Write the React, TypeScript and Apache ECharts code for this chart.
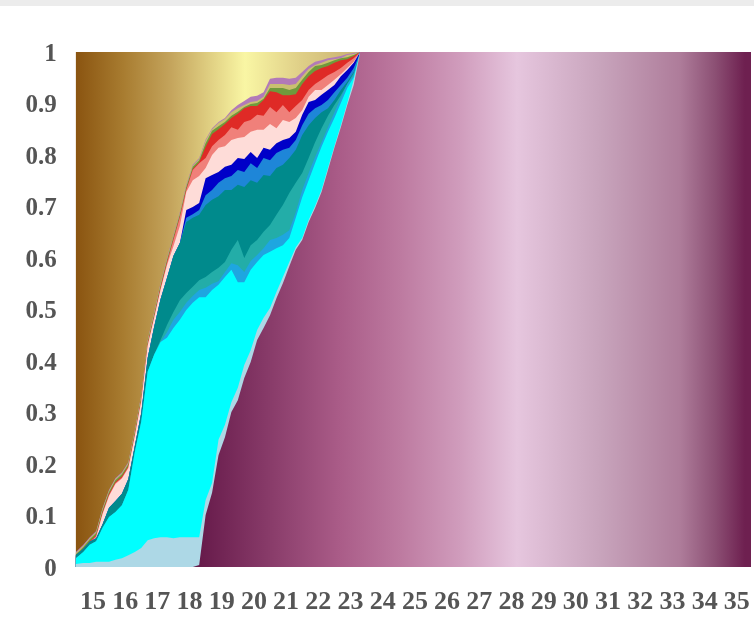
import React, { useEffect, useRef } from "react";
import * as echarts from "echarts";

const xs = [14.47,14.7,14.9,15.1,15.3,15.5,15.7,15.9,16.1,16.3,16.5,16.7,16.9,17.1,17.3,17.5,17.7,17.9,18.1,18.3,18.5,18.7,18.9,19.1,19.3,19.5,19.7,19.9,20.1,20.3,20.5,20.7,20.9,21.1,21.3,21.5,21.7,21.9,22.1,22.3,22.5,22.7,22.9,23.1,23.3,23.5];
const xEnd = 35.44;

const plumTop = [.029,.043,.058,.070,.115,.150,.173,.184,.204,.266,.334,.441,.495,.551,.600,.645,.689,.742,.781,.794,.830,.852,.864,.872,.887,.897,.905,.913,.915,.922,.948,.950,.950,.948,.950,.961,.973,.981,.984,.988,.990,.992,.996,.998,1,1];
const tanTop = [.027,.041,.056,.068,.113,.148,.171,.182,.202,.264,.332,.439,.493,.549,.598,.643,.687,.740,.779,.792,.828,.850,.862,.870,.883,.891,.897,.903,.905,.913,.938,.938,.938,.936,.938,.953,.967,.975,.979,.984,.986,.988,.994,.996,1,1];
const greenTop = [.025,.039,.054,.066,.111,.146,.169,.180,.200,.262,.330,.437,.491,.547,.596,.641,.685,.738,.777,.790,.823,.847,.856,.864,.876,.884,.893,.899,.901,.909,.930,.930,.930,.926,.930,.946,.961,.973,.975,.979,.984,.988,.990,.994,1,1];
const redTop = [.021,.035,.050,.062,.107,.142,.165,.176,.196,.258,.326,.433,.487,.543,.592,.637,.681,.734,.773,.786,.816,.841,.850,.860,.872,.880,.891,.895,.895,.907,.924,.922,.916,.916,.918,.938,.953,.963,.969,.973,.979,.984,.986,.992,1,1];
const salmonTop = [.019,.033,.048,.060,.105,.140,.163,.174,.194,.256,.324,.431,.485,.541,.590,.635,.679,.732,.771,.784,.794,.817,.829,.839,.854,.849,.864,.868,.878,.876,.893,.883,.897,.883,.895,.907,.926,.938,.946,.955,.961,.969,.979,.988,1,1];
const pinkTop = [.017,.031,.046,.058,.103,.138,.161,.172,.192,.254,.322,.429,.483,.538,.586,.623,.662,.728,.751,.759,.775,.800,.814,.817,.829,.833,.835,.845,.849,.849,.860,.852,.868,.864,.872,.887,.913,.926,.926,.936,.946,.957,.969,.981,1,1];
const navyTop = [.023,.035,.049,.056,.083,.115,.128,.142,.171,.235,.299,.406,.466,.520,.561,.604,.629,.693,.699,.707,.755,.761,.767,.777,.781,.794,.792,.806,.794,.814,.810,.823,.829,.833,.845,.878,.903,.907,.917,.926,.936,.953,.965,.979,1,1];
const blueTop = [.023,.035,.049,.056,.083,.115,.128,.142,.171,.235,.299,.406,.466,.520,.561,.604,.629,.678,.685,.693,.722,.732,.746,.755,.759,.771,.767,.784,.775,.794,.790,.804,.810,.814,.829,.858,.880,.891,.897,.907,.922,.936,.950,.969,.998,1];
const tealTop = [.023,.035,.049,.056,.083,.115,.128,.142,.171,.235,.299,.406,.466,.520,.561,.604,.629,.670,.678,.684,.703,.713,.720,.732,.732,.742,.738,.751,.746,.761,.759,.775,.781,.794,.810,.839,.858,.872,.883,.891,.907,.926,.942,.961,.996,1];
const seaTop = [.017,.029,.043,.050,.076,.097,.107,.120,.150,.223,.282,.379,.412,.441,.470,.495,.518,.532,.544,.557,.563,.573,.581,.592,.616,.635,.600,.625,.635,.651,.664,.684,.703,.726,.746,.765,.794,.825,.852,.876,.897,.916,.938,.959,1,1];
const steelTop = [.017,.029,.043,.050,.076,.097,.107,.120,.150,.223,.282,.379,.412,.437,.456,.480,.495,.513,.526,.538,.542,.550,.555,.573,.590,.586,.573,.594,.606,.619,.635,.639,.645,.654,.689,.732,.765,.796,.825,.854,.883,.911,.938,.955,1,1];
const cyanTop = [.017,.029,.043,.050,.076,.097,.107,.120,.150,.223,.282,.379,.412,.437,.445,.464,.480,.499,.513,.524,.524,.538,.548,.563,.577,.553,.553,.577,.592,.606,.612,.619,.625,.639,.678,.718,.751,.784,.816,.845,.872,.901,.930,.951,1,1];
const paleTop = [.006,.008,.008,.010,.010,.010,.014,.017,.023,.029,.037,.052,.056,.058,.058,.056,.058,.058,.058,.058,.130,.163,.247,.276,.320,.348,.392,.421,.460,.484,.503,.534,.563,.592,.621,.639,.674,.701,.732,.775,.817,.858,.901,.946,1,1];
const mauveTop = [0,0,0,0,0,0,0,0,0,0,0,0,0,0,0,0,0,0,0,.004,.101,.144,.217,.252,.301,.324,.367,.398,.441,.464,.489,.522,.551,.584,.616,.635,.670,.697,.728,.771,.814,.854,.897,.936,1,1];

const xTicks = ["15","16","17","18","19","20","21","22","23","24","25","26","27","28","29","30","31","32","33","34","35"];

const bands: [number[], string][] = [
  [plumTop, "#b27ab8"],
  [tanTop, "#c9c070"],
  [greenTop, "#6f9a3c"],
  [redTop, "#df2a26"],
  [salmonTop, "#f0807a"],
  [pinkTop, "#fedcd8"],
  [navyTop, "#0000c8"],
  [blueTop, "#1e86d8"],
  [tealTop, "#008a8c"],
  [seaTop, "#23ada8"],
  [steelTop, "#1ea6e0"],
  [cyanTop, "#00ffff"],
  [paleTop, "#add8e6"],
];

export default function App() {
  const ref = useRef<HTMLDivElement>(null);
  useEffect(() => {
    document.body.style.margin = "0";
    document.body.style.background = "#ffffff";
    const chart = echarts.init(ref.current!, undefined, { renderer: "svg" });
    const gold = new echarts.graphic.LinearGradient(76, 0, 752, 0, [
      { offset: 0, color: "#8a5410" },
      { offset: 0.07, color: "#a87c30" },
      { offset: 0.14, color: "#c4a45c" },
      { offset: 0.25, color: "#f9f6a4" },
      { offset: 0.33, color: "#e0d088" },
      { offset: 0.42, color: "#c8b070" },
      { offset: 1, color: "#c8b070" },
    ], true);
    const mauve = new echarts.graphic.LinearGradient(198, 0, 752, 0, [
      { offset: 0, color: "#661a4a" },
      { offset: 0.256, color: "#aa5c88" },
      { offset: 0.365, color: "#bd7aa0" },
      { offset: 0.473, color: "#d09cbc" },
      { offset: 0.576, color: "#e6c6de" },
      { offset: 0.726, color: "#c8a4bc" },
      { offset: 0.87, color: "#ae7c9a" },
      { offset: 0.933, color: "#8c5074" },
      { offset: 0.987, color: "#6e2050" },
      { offset: 1, color: "#6e2050" },
    ], true);
    const mk = (name: string, data: number[][], color: any) => ({
      name,
      type: "line",
      data,
      symbol: "none",
      lineStyle: { width: 0 },
      areaStyle: { color, opacity: 1 },
      silent: true,
    });
    chart.setOption({
      animation: false,
      backgroundColor: "#ffffff",
      grid: { left: 60.75, top: 52, right: 2.1, height: 515, containLabel: false },
      graphic: [{ type: "rect", shape: { x: 0, y: 0, width: 754, height: 6 }, style: { fill: "#ececec" } }],
      xAxis: {
        type: "value",
        min: 14,
        max: xEnd,
        interval: 1,
        axisLine: { show: false },
        axisTick: { show: false },
        splitLine: { show: false },
        showMinLabel: false,
        showMaxLabel: false,
        axisLabel: {
          margin: 20,
          fontFamily: "Liberation Serif",
          fontWeight: "bold",
          fontSize: 26,
          color: "#555555",
          formatter: (v: number) => (xTicks.includes(String(v)) ? String(v) : ""),
        },
      },
      yAxis: {
        type: "value",
        min: 0,
        max: 1,
        interval: 0.1,
        axisLine: { show: false },
        axisTick: { show: false },
        splitLine: { show: false },
        axisLabel: {
          margin: 4,
          fontFamily: "Liberation Serif",
          fontWeight: "bold",
          fontSize: 25,
          color: "#555555",
        },
      },
      series: [
        mk("background", [[xs[0], 1], [xEnd, 1]], gold),
        ...bands.map(([vals, c], i) => mk("band" + i, xs.map((x, j) => [x, vals[j]]), c)),
        mk("mauve", [...xs.map((x, j) => [x, mauveTop[j]]), [xEnd, 1]], mauve),
      ],
    });
    return () => chart.dispose();
  }, []);
  return <div ref={ref} style={{ width: 754, height: 631, filter: "blur(0.5px)" }} />;
}
